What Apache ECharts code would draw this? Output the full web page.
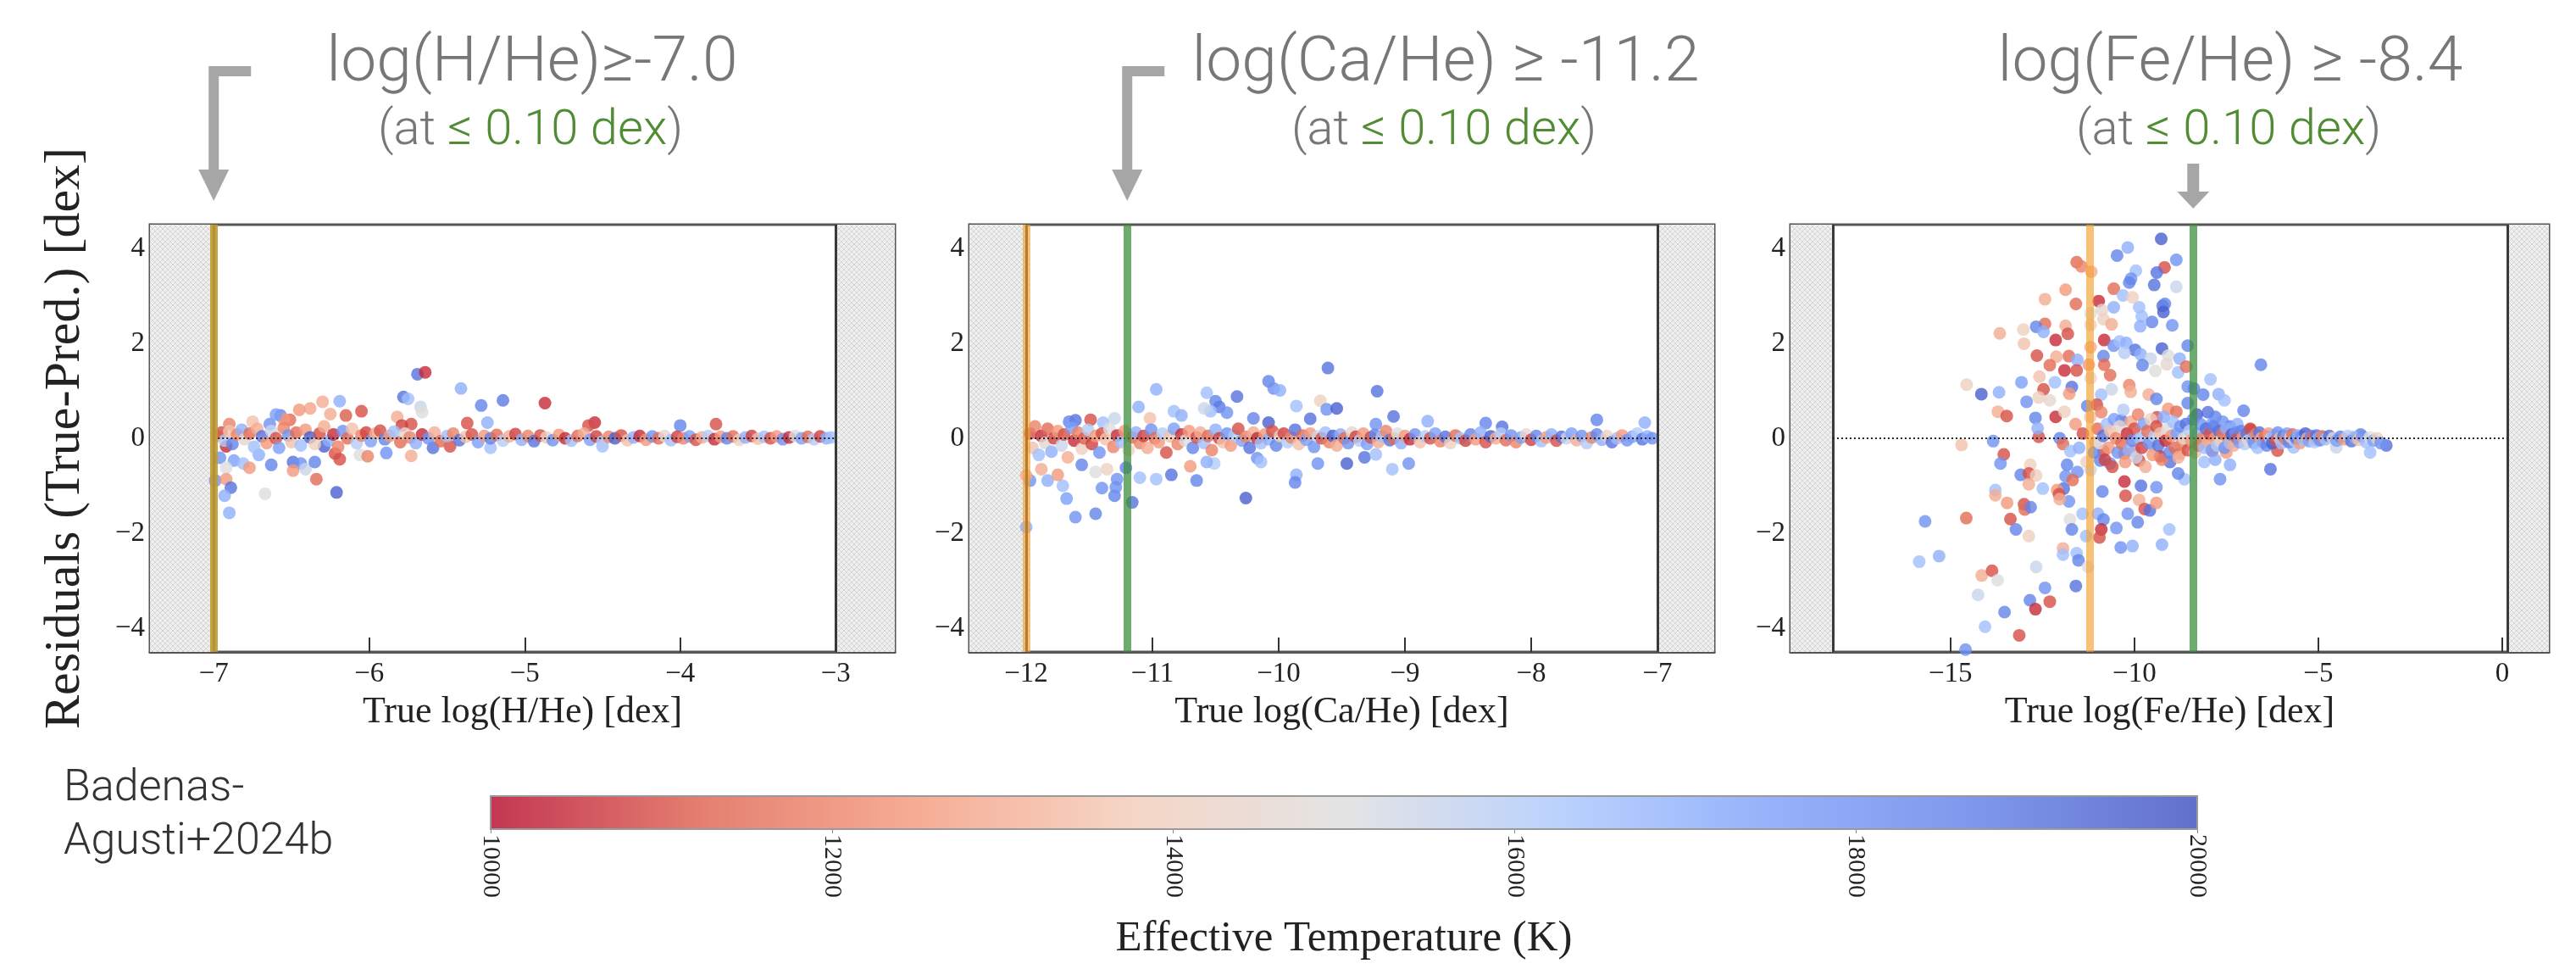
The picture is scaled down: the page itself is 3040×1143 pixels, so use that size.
<!DOCTYPE html>
<html>
<head>
<meta charset="utf-8">
<title>Residuals vs true abundance</title>
<script src="https://cdn.jsdelivr.net/npm/echarts@6.0.0/dist/echarts.min.js"></script>
<style>
    html, body { margin: 0; padding: 0; background: #ffffff; }
    #chart { width: 3040px; height: 1143px; }
</style>
</head>
<body>
<div id="chart"></div>
<script>
// ---------------------------------------------------------------------------
// Data: [true log abundance, residual, Teff]
// ---------------------------------------------------------------------------
const hOutliers = [
    [-5.69,1.35,19000],[-5.64,1.39,10500],[-5.41,1.05,17000],[-5.78,0.87,19000],[-5.75,0.83,16500],
    [-5.67,0.66,15500],[-5.66,0.55,15000],[-5.28,0.69,18500],[-5.14,0.80,18800],[-4.87,0.74,10500],
    [-6.19,0.78,17000],[-6.30,0.77,13000],[-6.38,0.63,12800],[-6.05,0.57,11000],[-6.15,0.48,11200],
    [-6.25,0.51,13000],[-6.45,0.60,12500],[-6.57,0.48,18500],[-6.51,0.39,11500],[-6.64,0.30,18000],
    [-5.82,0.45,13000],[-5.73,0.30,11000],[-5.79,0.27,10800],[-5.24,0.33,17000],[-5.37,0.32,11000],
    [-4.55,0.33,10500],[-4.59,0.27,11000],[-4.00,0.27,18500],[-3.77,0.30,11000],[-6.29,-0.17,19500],
    [-6.96,-0.41,18000],[-6.92,-0.17,10500],[-6.87,-0.47,17500],[-6.81,-0.53,16500],[-6.77,-0.62,12500],
    [-6.92,-0.62,15000],[-6.71,-0.35,17000],[-6.63,-0.56,18500],[-6.49,-0.50,19000],[-6.44,-0.53,18000],
    [-6.49,-0.68,12500],[-6.41,-0.65,15500],[-6.35,-0.50,18500],[-6.22,-0.32,11000],[-6.19,-0.44,11000],
    [-6.06,-0.35,15000],[-6.01,-0.38,12000],[-6.34,-0.86,11500],[-6.99,-0.89,18000],[-6.92,-0.86,12500],
    [-6.89,-1.04,19000],[-6.93,-1.21,17000],[-6.90,-1.57,17000],[-6.67,-1.17,15000],[-6.21,-1.14,19500],
    [-5.73,-0.37,13000],[-5.89,-0.31,18000],[-5.59,-0.20,19000],[-5.48,-0.17,11000],[-5.22,-0.20,16500],
    [-4.50,-0.17,16500],[-6.90,0.30,12000],[-6.75,0.35,13500],[-6.55,0.40,12500],[-6.60,0.50,17500]
];
const hBand = [
    [-6.98,0.05,12500],[-6.95,0.12,11000],[-6.93,-0.05,16000],[-6.90,0.15,13500],[-6.88,-0.12,18500],
    [-6.85,0.08,12000],[-6.82,0.18,17000],[-6.80,-0.02,14500],[-6.77,0.10,11500],[-6.74,-0.18,16500],
    [-6.72,0.20,13000],[-6.69,0.04,19000],[-6.66,-0.10,12500],[-6.63,0.15,15500],[-6.60,0.00,11000],
    [-6.58,-0.20,17500],[-6.55,0.22,12000],[-6.52,0.06,18000],[-6.50,-0.08,13500],[-6.47,0.12,11500],
    [-6.44,-0.15,16500],[-6.41,0.18,12500],[-6.38,0.02,19500],[-6.35,-0.12,14000],[-6.32,0.10,11000],
    [-6.29,0.25,13000],[-6.26,-0.05,17000],[-6.23,0.08,10500],[-6.20,-0.18,12000],[-6.17,0.15,18000],
    [-6.14,0.00,11500],[-6.11,0.20,13500],[-6.08,-0.10,16000],[-6.05,0.06,12000],[-6.02,0.12,10800],
    [-5.99,-0.06,17500],[-5.96,0.10,13000],[-5.93,0.16,11000],[-5.90,-0.02,18500],[-5.87,0.05,12500],
    [-5.84,0.14,16500],[-5.80,-0.08,11500],[-5.77,0.10,14500],[-5.74,0.02,12000],[-5.70,-0.10,17000],
    [-5.66,0.08,10500],[-5.62,0.00,18000],[-5.58,0.12,13000],[-5.54,-0.06,11500],[-5.50,0.05,16500],
    [-5.46,0.10,12000],[-5.42,-0.04,19000],[-5.38,0.03,13500],[-5.34,0.08,11000],[-5.30,-0.08,17500],
    [-5.26,0.05,12500],[-5.22,0.00,18500],[-5.18,0.07,11500],[-5.14,-0.05,16000],[-5.10,0.04,13000],
    [-5.06,0.09,10800],[-5.02,-0.03,17000],[-4.98,0.05,12000],[-4.94,-0.06,19000],[-4.90,0.06,11000],
    [-4.86,0.02,14000],[-4.82,-0.04,18000],[-4.78,0.07,12500],[-4.74,0.00,10500],[-4.70,-0.05,16500],
    [-4.66,0.05,11500],[-4.62,0.10,13000],[-4.58,-0.03,17500],[-4.54,0.04,10800],[-4.50,-0.07,16000],
    [-4.46,0.03,12000],[-4.42,0.00,19500],[-4.38,0.06,11000],[-4.34,-0.04,13500],[-4.30,0.02,17000],
    [-4.26,0.05,10500],[-4.22,-0.03,12500],[-4.18,0.04,18000],[-4.14,0.00,11500],[-4.10,0.05,14500],
    [-4.06,-0.04,16500],[-4.02,0.03,10800],[-3.98,0.00,12000],[-3.94,0.04,17500],[-3.90,-0.03,11000],
    [-3.86,0.02,13000],[-3.82,0.05,16000],[-3.78,-0.02,10500],[-3.74,0.03,12500],[-3.70,0.00,18500],
    [-3.66,0.04,11500],[-3.62,-0.03,14000],[-3.58,0.02,17000],[-3.54,0.05,10800],[-3.50,-0.01,13500],
    [-3.46,0.03,16500],[-3.42,0.00,11000],[-3.38,0.04,12500],[-3.34,-0.02,18000],[-3.30,0.02,10500],
    [-3.26,0.05,15000],[-3.22,0.00,17500],[-3.18,0.03,11500],[-3.14,-0.02,16000],[-3.10,0.04,10800],
    [-3.06,0.00,17000],[-3.03,0.02,16500]
];

const caOutliers = [
    [-9.61,1.48,19000],[-10.08,1.20,18500],[-10.04,1.05,18000],[-9.99,1.01,17000],[-9.22,0.99,19000],
    [-10.97,1.03,17000],[-10.57,0.96,16500],[-10.33,0.88,19000],[-9.67,0.79,14000],[-9.86,0.68,16500],
    [-9.62,0.61,18000],[-9.54,0.63,19500],[-10.50,0.78,18500],[-10.47,0.66,18800],[-10.41,0.54,18000],
    [-10.54,0.57,16500],[-11.11,0.66,17000],[-10.59,0.63,15500],[-9.09,0.46,19000],[-10.83,0.57,16500],
    [-10.77,0.48,17000],[-11.02,0.42,13500],[-10.20,0.42,18500],[-10.08,0.33,19500],[-9.75,0.41,19000],
    [-9.23,0.30,18000],[-8.82,0.36,17000],[-8.36,0.32,18500],[-8.23,0.24,19000],[-7.48,0.39,18500],
    [-7.10,0.33,17000],[-11.61,0.38,19000],[-11.66,0.35,18500],[-11.49,0.39,11000],[-11.39,0.33,16500],
    [-11.30,0.42,15500],[-10.26,-1.26,19500],[-11.61,-1.66,18000],[-11.45,-1.59,18500],[-11.68,-1.27,17500],
    [-11.40,-1.05,18000],[-11.30,-1.21,18500],[-11.29,-1.03,18000],[-11.28,-0.86,18000],[-11.16,-1.35,19000],
    [-11.21,-0.62,18500],[-10.85,-0.77,19000],[-10.65,-0.89,18500],[-10.97,-0.86,16500],[-11.10,-0.83,16500],
    [-9.86,-0.77,17000],[-9.87,-0.93,18500],[-9.69,-0.53,18000],[-9.46,-0.53,19500],[-9.32,-0.40,19000],
    [-9.23,-0.34,16500],[-9.10,-0.65,16500],[-8.97,-0.53,18000],[-10.70,-0.59,12500],[-10.51,-0.53,16000],
    [-10.57,-0.50,17000],[-10.17,-0.42,18000],[-10.14,-0.50,16500],[-11.97,-0.89,18000],[-12.00,-0.78,13000],
    [-12.00,-1.87,17000],[-11.71,-1.00,16500],[-11.83,-0.89,17000],[-11.56,-0.56,18500],[-11.88,-0.65,13000],
    [-11.75,-0.77,12500],[-11.45,-0.71,15000],[-11.36,-0.65,14000]
];
const caBand = [
    [-11.97,0.10,11000],[-11.95,-0.20,13500],[-11.93,0.25,12000],[-11.90,-0.35,16500],[-11.88,0.05,10500],
    [-11.85,-0.10,14500],[-11.83,0.20,11500],[-11.80,-0.28,17000],[-11.78,0.00,10800],[-11.75,0.15,12500],
    [-11.72,-0.15,15500],[-11.70,0.08,11000],[-11.67,-0.40,13000],[-11.64,0.22,17500],[-11.62,-0.05,10500],
    [-11.59,0.12,12000],[-11.56,-0.22,14000],[-11.54,0.00,11200],[-11.51,0.18,16000],[-11.48,-0.12,10800],
    [-11.45,0.05,12500],[-11.42,-0.30,18000],[-11.40,0.10,11000],[-11.37,-0.02,13500],[-11.34,0.20,15000],
    [-11.31,-0.18,12000],[-11.28,0.06,10500],[-11.25,-0.08,16500],[-11.22,0.15,12500],[-11.19,-0.25,14000],
    [-11.16,0.02,11500],[-11.13,0.12,17000],[-11.10,-0.10,12000],[-11.07,0.05,10800],[-11.04,-0.20,13000],
    [-11.01,0.18,18000],[-10.98,0.00,11500],[-10.95,-0.08,12500],[-10.92,0.10,16000],[-10.89,-0.30,11000],
    [-10.86,0.04,13500],[-10.83,0.20,17500],[-10.80,-0.12,12000],[-10.77,0.08,10500],[-10.74,-0.05,15000],
    [-10.71,0.15,12500],[-10.68,-0.20,18500],[-10.65,0.02,11000],[-10.62,0.12,13000],[-10.59,-0.10,16500],
    [-10.56,0.05,11500],[-10.53,-0.25,12000],[-10.50,0.18,17000],[-10.47,0.00,10800],[-10.44,-0.08,13500],
    [-10.41,0.10,18000],[-10.38,-0.15,12500],[-10.35,0.06,16000],[-10.32,0.20,11000],[-10.29,-0.05,17500],
    [-10.26,0.03,12000],[-10.23,-0.20,19000],[-10.20,0.12,13000],[-10.17,0.00,10500],[-10.14,-0.10,16500],
    [-10.11,0.08,12500],[-10.08,-0.02,17000],[-10.05,0.15,11000],[-10.02,-0.15,18500],[-9.99,0.05,14000],
    [-9.96,0.10,10800],[-9.93,-0.08,16000],[-9.90,0.02,12000],[-9.87,0.18,19000],[-9.84,-0.12,13500],
    [-9.81,0.06,11500],[-9.78,-0.03,17500],[-9.75,0.10,12500],[-9.72,-0.18,18000],[-9.69,0.04,15500],
    [-9.66,0.00,11000],[-9.63,0.12,16500],[-9.60,-0.08,12000],[-9.57,0.05,19500],[-9.54,-0.15,13000],
    [-9.51,0.08,17000],[-9.48,0.00,11500],[-9.45,-0.10,18000],[-9.42,0.12,14500],[-9.39,0.03,10800],
    [-9.36,-0.05,16000],[-9.33,0.10,12500],[-9.30,-0.12,17500],[-9.27,0.02,11000],[-9.24,0.07,18500],
    [-9.21,-0.08,13000],[-9.18,0.04,16500],[-9.15,0.15,12000],[-9.12,-0.04,19000],[-9.09,0.00,11500],
    [-9.06,0.10,15000],[-9.03,-0.10,17000],[-9.00,0.05,12500],[-8.96,-0.02,10500],[-8.92,0.08,18000],
    [-8.88,-0.08,13500],[-8.84,0.04,16000],[-8.80,0.00,11000],[-8.76,0.10,17500],[-8.72,-0.06,12000],
    [-8.68,0.03,19000],[-8.64,-0.10,14000],[-8.60,0.06,11500],[-8.56,0.00,16500],[-8.52,-0.05,10800],
    [-8.48,0.08,18500],[-8.44,-0.02,12500],[-8.40,0.12,17000],[-8.36,-0.08,11000],[-8.32,0.04,19500],
    [-8.28,0.00,13000],[-8.24,0.10,16000],[-8.20,-0.04,11500],[-8.16,0.06,18000],[-8.12,-0.08,12000],
    [-8.08,0.02,17500],[-8.04,0.08,14500],[-8.00,-0.03,10800],[-7.96,0.05,18500],[-7.92,-0.06,16500],
    [-7.88,0.02,12500],[-7.84,0.08,17000],[-7.80,-0.05,11000],[-7.76,0.03,19000],[-7.72,0.00,15500],
    [-7.68,0.10,17500],[-7.64,-0.04,13000],[-7.60,0.05,18000],[-7.56,-0.10,16000],[-7.52,0.02,12000],
    [-7.48,0.08,18500],[-7.44,-0.03,17000],[-7.40,0.05,14000],[-7.36,-0.08,19000],[-7.32,0.00,16500],
    [-7.28,0.06,12500],[-7.24,-0.04,18000],[-7.20,0.03,17500],[-7.16,0.10,16000],[-7.12,-0.02,19000],
    [-7.08,0.04,17000],[-7.04,0.00,18000]
];

const feOutliers = [
    [-9.27,4.20,19500],[-10.18,4.02,17000],[-10.47,3.85,18500],[-8.86,3.76,18000],[-9.18,3.60,11000],
    [-9.39,3.49,19000],[-11.57,3.71,11500],[-11.44,3.62,12000],[-11.17,3.51,13000],[-9.96,3.53,16500],
    [-10.09,3.36,18000],[-10.14,3.28,18500],[-9.46,3.23,19000],[-8.86,3.19,15500],[-11.87,3.13,12500],
    [-10.56,3.15,11500],[-10.31,3.01,16500],[-10.05,2.97,14000],[-12.43,2.93,13000],[-11.59,2.83,11500],
    [-10.97,2.89,10500],[-10.88,2.70,14500],[-10.56,2.76,17000],[-9.87,2.76,16500],[-9.23,2.79,19000],
    [-9.17,2.83,18500],[-9.21,2.66,19500],[-11.19,2.63,15000],[-9.80,2.57,16500],[-9.52,2.45,18500],
    [-8.97,2.38,18000],[-9.84,2.36,17000],[-10.84,2.51,14000],[-10.62,2.40,13000],[-11.19,2.39,14000],
    [-11.87,2.37,13000],[-12.43,2.41,11500],[-12.67,2.35,18500],[-12.47,2.24,17000],[-13.02,2.29,14000],
    [-13.66,2.21,13000],[-11.81,2.20,11000],[-12.14,2.07,10500],[-13.00,1.99,13500],[-10.82,2.07,10500],
    [-10.56,1.95,18000],[-10.40,2.04,16500],[-10.22,2.01,17000],[-9.98,1.86,19000],[-9.25,1.89,19500],
    [-8.55,1.95,18500],[-11.19,1.92,13000],[-12.65,1.74,11000],[-12.12,1.72,13000],[-11.78,1.73,11500],
    [-11.55,1.65,17000],[-10.84,1.73,18500],[-10.27,1.80,16000],[-9.83,1.77,17000],[-9.56,1.68,15500],
    [-9.08,1.74,15000],[-8.77,1.68,17000],[-12.30,1.54,11500],[-11.90,1.43,10500],[-11.57,1.43,11000],
    [-11.24,1.55,12500],[-10.82,1.55,11500],[-10.66,1.33,11500],[-12.58,1.30,13500],[-9.78,1.54,18500],
    [-9.43,1.42,15000],[-9.12,1.56,14500],[-8.81,1.39,16500],[-8.59,1.51,11500],[-7.93,1.24,16500],
    [-6.56,1.55,18500],[-14.56,1.13,14000],[-14.16,0.93,19500],[-13.68,0.97,17000],[-13.07,1.18,17500],
    [-12.93,0.77,18000],[-12.16,1.18,16500],[-12.47,1.03,11000],[-12.60,0.86,14000],[-12.30,0.80,14500],
    [-11.70,1.08,19000],[-11.77,0.94,12500],[-11.19,1.27,14500],[-10.90,0.92,16500],[-10.62,1.03,15500],
    [-10.14,1.12,12000],[-10.10,0.98,13000],[-9.61,0.92,13000],[-9.40,0.83,18500],[-8.55,1.09,18000],
    [-8.38,1.05,18500],[-8.55,0.74,18500],[-8.13,0.92,18500],[-7.71,0.93,17000],[-7.55,0.80,16500],
    [-7.03,0.58,18500],[-13.71,0.56,13000],[-13.47,0.47,11000],[-12.69,0.43,18500],[-12.14,0.45,10500],
    [-11.90,0.56,14000],[-11.28,0.68,18500],[-11.02,0.71,11000],[-10.35,0.38,19000],[-9.39,0.44,11000],
    [-9.08,0.62,12500],[-8.86,0.56,11500],[-12.60,0.03,11000],[-12.63,0.21,17000],[-12.03,0.00,18500],
    [-11.94,-0.12,11500],[-13.84,-0.06,18000],[-14.70,-0.14,13500],[-13.55,-0.34,11000],[-13.64,-0.53,18000],
    [-11.74,-0.27,16500],[-11.06,-0.09,13000],[-10.84,-0.27,11000],[-10.93,-0.47,18500],[-10.66,-0.53,18000],
    [-10.27,-0.32,11500],[-10.00,-0.27,12500],[-9.87,-0.47,11000],[-9.56,-0.15,14500],[-9.30,-0.38,10500],
    [-9.03,-0.50,19000],[-8.77,-0.32,12500],[-8.64,-0.86,16500],[-8.81,-0.74,18500],[-8.06,-0.09,13000],
    [-7.88,-0.27,11500],[-7.40,-0.56,17000],[-7.67,-0.86,18000],[-6.30,-0.65,19000],[-12.83,-0.56,14000],
    [-13.09,-0.77,18500],[-12.87,-0.74,11000],[-12.67,-0.78,14000],[-11.83,-0.56,18500],[-11.55,-0.71,18000],
    [-11.87,-0.80,18000],[-11.19,-0.67,15500],[-12.87,-0.97,13000],[-12.49,-1.06,16500],[-11.92,-1.06,19000],
    [-12.10,-1.09,12500],[-11.68,-0.88,11500],[-10.87,-1.12,18500],[-10.27,-0.91,10500],[-9.82,-1.00,19000],
    [-9.40,-1.03,18000],[-13.78,-1.09,16500],[-13.78,-1.20,13000],[-13.46,-1.36,12500],[-13.00,-1.39,11000],
    [-12.98,-1.50,11500],[-12.82,-1.45,18500],[-12.05,-1.18,11000],[-11.78,-1.33,18000],[-12.03,-1.28,13000],
    [-10.24,-1.21,11000],[-9.87,-1.30,13000],[-9.72,-1.49,11000],[-9.58,-1.52,19000],[-9.40,-1.36,12500],
    [-14.57,-1.68,11500],[-15.69,-1.75,18000],[-13.37,-1.70,11000],[-13.22,-1.92,18500],[-12.87,-2.06,14000],
    [-11.41,-1.59,16500],[-10.99,-1.59,17000],[-11.75,-1.71,15000],[-10.84,-1.71,18500],[-10.49,-1.89,18000],
    [-10.90,-1.92,10500],[-10.95,-2.09,11000],[-11.70,-1.92,18500],[-11.31,-2.06,16500],[-10.18,-1.59,18000],
    [-9.91,-1.77,18500],[-9.05,-1.92,16500],[-10.37,-2.30,18000],[-10.05,-2.27,17000],[-9.25,-2.24,17000],
    [-11.94,-2.32,13000],[-11.94,-2.45,16500],[-11.57,-2.42,16500],[-11.52,-2.57,18500],[-11.26,-2.71,15000],
    [-15.85,-2.60,16500],[-15.31,-2.48,17000],[-14.15,-2.89,13000],[-13.87,-2.79,11000],[-13.72,-2.99,15000],
    [-14.25,-3.30,15500],[-12.67,-2.71,15500],[-12.43,-3.15,18000],[-11.59,-3.11,19000],[-12.84,-3.41,18500],
    [-12.30,-3.44,11000],[-12.69,-3.60,10500],[-13.53,-3.66,18500],[-14.06,-3.97,16500],[-13.13,-4.15,11000],
    [-14.59,-4.45,18000],[-3.15,-0.15,19000],[-3.59,-0.30,16500],[-3.85,0.08,18500],[-4.87,0.03,19500],
    [-5.02,-0.04,19000],[-5.67,-0.19,16500],[-6.11,-0.26,11000],[-6.47,0.00,11000],[-6.84,0.18,10500],
    [-7.13,0.03,13000],[-4.07,0.03,14500],[-4.51,-0.19,15500],[-8.00,0.55,19000],[-7.80,0.45,18500],
    [-7.60,0.35,18000],[-7.90,0.30,17500],[-8.30,0.50,19500],[-7.40,0.25,18500],[-7.20,0.30,17000],
    [-8.10,-0.50,16500],[-7.80,-0.45,17000],[-7.50,-0.30,12500]
];
const feBand = [
    [-11.60,0.30,12500],[-11.50,-0.20,17000],[-11.40,0.10,11000],[-11.30,-0.50,14000],[-11.20,0.45,13500],
    [-11.10,-0.30,18500],[-11.00,0.20,11500],[-10.95,-0.10,15000],[-10.90,0.55,12000],[-10.85,0.05,19000],
    [-10.80,-0.45,10800],[-10.75,0.30,16500],[-10.70,-0.20,12500],[-10.65,0.15,13500],[-10.60,-0.60,11000],
    [-10.55,0.40,17500],[-10.50,0.00,12000],[-10.45,-0.30,18000],[-10.40,0.25,14500],[-10.35,-0.10,11500],
    [-10.30,0.60,16000],[-10.25,-0.50,12500],[-10.20,0.10,10500],[-10.15,-0.25,17000],[-10.10,0.35,13000],
    [-10.05,-0.05,18500],[-10.00,0.20,11000],[-9.95,-0.40,15500],[-9.90,0.50,12000],[-9.85,0.00,16500],
    [-9.80,-0.20,10800],[-9.75,0.30,17500],[-9.70,-0.60,13000],[-9.65,0.15,11500],[-9.60,-0.10,18000],
    [-9.55,0.40,14000],[-9.50,-0.35,12500],[-9.45,0.05,16000],[-9.40,0.25,11000],[-9.35,-0.15,19000],
    [-9.30,0.10,13500],[-9.25,-0.45,12000],[-9.20,0.45,17000],[-9.15,-0.05,10500],[-9.10,0.20,15000],
    [-9.05,-0.30,18500],[-9.00,0.05,12500],[-8.95,0.35,16500],[-8.90,-0.20,11500],[-8.85,0.10,17500],
    [-8.80,-0.40,13000],[-8.75,0.25,18000],[-8.70,-0.10,12000],[-8.65,0.00,14500],[-8.60,0.30,19000],
    [-8.55,-0.25,11000],[-8.50,0.15,16000],[-8.45,-0.05,12500],[-8.40,0.40,18500],[-8.35,-0.30,13500],
    [-8.30,0.10,17000],[-8.25,-0.15,11500],[-8.20,0.30,18000],[-8.15,0.00,12000],[-8.10,-0.20,16500],
    [-8.05,0.20,19000],[-8.00,-0.05,13000],[-7.95,0.10,11000],[-7.90,-0.25,17500],[-7.85,0.25,18500],
    [-7.80,0.00,12500],[-7.75,-0.15,16000],[-7.70,0.15,19000],[-7.65,-0.05,14000],[-7.60,0.10,11500],
    [-7.55,-0.20,18000],[-7.50,0.20,17000],[-7.45,0.00,12000],[-7.40,-0.10,16500],[-7.35,0.08,19500],
    [-7.30,-0.15,13000],[-7.25,0.12,18000],[-7.20,0.00,11000],[-7.15,-0.08,17500],[-7.10,0.15,18500],
    [-7.05,0.02,12500],[-7.00,-0.12,16000],[-6.95,0.10,19000],[-6.90,-0.05,14500],[-6.85,0.20,11000],
    [-6.80,0.00,17000],[-6.75,-0.10,18000],[-6.70,0.08,12000],[-6.65,-0.20,16500],[-6.60,0.12,19000],
    [-6.55,0.00,13000],[-6.50,-0.08,17500],[-6.45,0.05,11500],[-6.40,-0.15,18500],[-6.35,0.10,12500],
    [-6.30,0.00,16000],[-6.25,-0.10,19500],[-6.20,0.06,17000],[-6.15,-0.04,11000],[-6.10,0.12,18000],
    [-6.05,0.00,13500],[-6.00,-0.10,16500],[-5.95,0.05,19000],[-5.90,-0.02,12000],[-5.85,0.10,17500],
    [-5.80,-0.08,18500],[-5.75,0.03,14000],[-5.70,0.08,11500],[-5.65,-0.05,16000],[-5.60,0.00,19000],
    [-5.55,0.06,17000],[-5.50,-0.10,12500],[-5.45,0.04,18000],[-5.40,-0.03,16500],[-5.35,0.10,19500],
    [-5.30,0.00,13000],[-5.25,-0.06,17500],[-5.20,0.05,18500],[-5.15,0.02,11500],[-5.10,-0.08,16000],
    [-5.05,0.06,19000],[-5.00,0.00,17000],[-4.95,-0.04,18000],[-4.90,0.04,12000],[-4.80,-0.02,16500],
    [-4.70,0.05,19000],[-4.60,0.00,14500],[-4.50,-0.05,17500],[-4.40,0.03,18500],[-4.30,-0.02,12500],
    [-4.20,0.05,16000],[-4.10,-0.06,19000],[-4.00,0.02,17000],[-3.90,-0.03,13500],[-3.80,0.04,18000],
    [-3.70,-0.08,16500],[-3.60,0.02,15000],[-3.50,-0.05,17500],[-3.40,0.00,14000],[-3.30,-0.10,18000]
];

// axis ranges, training limits and threshold lines per panel
const xRanges = [[-7.41, -2.62], [-12.45, -6.55], [-19.35, 1.27]];
const yRange = [-4.5, 4.5];
const limits = [[-7, -3], [-12, -7], [-18.2, 0.15]];
const orangeX = [-7, -12, -11.2];
const greenX = [-7, -11.2, -8.4];
const xTicks = [[-7, -6, -5, -4, -3], [-12, -11, -10, -9, -8, -7], [-15, -10, -5, 0]];
const yTicks = [-4, -2, 0, 2, 4];
const xNames = ["True log(H/He) [dex]", "True log(Ca/He) [dex]", "True log(Fe/He) [dex]"];
const titles = ["log(H/He)\u2265-7.0", "log(Ca/He) \u2265 -11.2", "log(Fe/He) \u2265 -8.4"];
const teffRange = [10000, 20000];
const teffTicks = 2000;
const coolwarmR = ["#b40426", "#de604d", "#f4987a", "#f2cbb7", "#dddddd", "#aac7fd", "#7b9ff9", "#5d7ce6", "#3b4cc0"];

const SERIF = '"Liberation Serif", "DejaVu Serif", serif';
const SANS = 'Roboto, "Liberation Sans", sans-serif';

document.addEventListener("DOMContentLoaded", function () {
    drawChart();
});

// light grey cross-hatch used for the out-of-range zones
function makeHatch() {
    const c = document.createElement("canvas");
    c.width = 6;
    c.height = 6;
    const ctx = c.getContext("2d");
    ctx.fillStyle = "#efefef";
    ctx.fillRect(0, 0, 6, 6);
    ctx.strokeStyle = "#d6d6d6";
    ctx.lineWidth = 1;
    ctx.beginPath();
    ctx.moveTo(0, 0); ctx.lineTo(6, 6);
    ctx.moveTo(6, 0); ctx.lineTo(0, 6);
    ctx.stroke();
    return { image: c, repeat: "repeat" };
}

function hexToRgba(hex, a) {
    const n = parseInt(hex.slice(1), 16);
    return "rgba(" + (n >> 16) + "," + ((n >> 8) & 255) + "," + (n & 255) + "," + a + ")";
}

function minusFmt(v) {
    return v < 0 ? "\u2212" + Math.abs(v) : String(v);
}

function panelSeries(i, points, hatch) {
    const lim = limits[i];
    const xr = xRanges[i];
    return {
        type: "scatter",
        xAxisIndex: i,
        yAxisIndex: i,
        data: points,
        symbolSize: 15,
        itemStyle: { opacity: 0.8 },
        z: 3,
        markArea: {
            silent: true,
            z: 1,
            itemStyle: { color: hatch },
            data: [
                [{ xAxis: xr[0] }, { xAxis: lim[0] }],
                [{ xAxis: lim[1] }, { xAxis: xr[1] }]
            ]
        },
        markLine: {
            silent: true,
            symbol: "none",
            z: 5,
            label: { show: false },
            data: [
                { xAxis: lim[0], lineStyle: { color: "#3a3a3a", width: 3, type: "solid" } },
                { xAxis: lim[1], lineStyle: { color: "#3a3a3a", width: 3, type: "solid" } },
                [
                    { coord: [lim[0], 0], lineStyle: { color: "#222", width: 2, type: [2, 3] } },
                    { coord: [lim[1], 0] }
                ],
                { xAxis: greenX[i], lineStyle: { color: "rgba(61,143,61,0.75)", width: 9, type: "solid" } },
                { xAxis: orangeX[i], lineStyle: { color: "rgba(245,160,48,0.65)", width: 9, type: "solid" } }
            ]
        }
    };
}

function drawChart() {
    const chart = echarts.init(document.getElementById("chart"));
    const hatch = makeHatch();

    const grids = [
        { left: 177, top: 265, width: 879, height: 504 },
        { left: 1144, top: 265, width: 879, height: 504 },
        { left: 2113, top: 265, width: 895, height: 504 },
        { left: 579, top: 939, width: 2014, height: 39 }
    ].map(function (g, i) {
        return Object.assign({
            show: i < 3,
            borderColor: "#555",
            borderWidth: 3,
            backgroundColor: "#fff"
        }, g);
    });

    const xAxes = [0, 1, 2].map(function (i) {
        return {
            type: "value",
            gridIndex: i,
            min: xRanges[i][0],
            max: xRanges[i][1],
            axisLine: { show: true, onZero: false, lineStyle: { color: "#555", width: 3 } },
            axisTick: { show: true, inside: true, length: 17, customValues: xTicks[i], lineStyle: { color: "#333", width: 2 } },
            axisLabel: { customValues: xTicks[i], formatter: minusFmt, fontFamily: SERIF, fontSize: 33, color: "#222", margin: 10 },
            splitLine: { show: false },
            name: xNames[i],
            nameLocation: "middle",
            nameGap: 49,
            nameTextStyle: { fontFamily: SERIF, fontSize: 44, color: "#222" }
        };
    });
    xAxes.push({
        type: "value",
        gridIndex: 3,
        min: teffRange[0],
        max: teffRange[1],
        interval: teffTicks,
        axisLine: { show: false },
        axisTick: { show: true, length: 5, lineStyle: { color: "#888", width: 1 } },
        axisLabel: { rotate: -90, formatter: function (v) { return String(v); }, fontFamily: SERIF, fontSize: 30, color: "#222", margin: 6 },
        splitLine: { show: false },
        name: "Effective Temperature (K)",
        nameLocation: "middle",
        nameGap: 104,
        nameTextStyle: { fontFamily: SERIF, fontSize: 51, color: "#222" }
    });

    const yAxes = [0, 1, 2].map(function (i) {
        return {
            type: "value",
            gridIndex: i,
            min: yRange[0],
            max: yRange[1],
            axisLine: { show: true, onZero: false, lineStyle: { color: "#555", width: 3 } },
            axisTick: { show: true, inside: true, length: 17, customValues: yTicks, lineStyle: { color: "#333", width: 2 } },
            axisLabel: { customValues: yTicks, formatter: minusFmt, fontFamily: SERIF, fontSize: 33, color: "#222", margin: 6 },
            splitLine: { show: false },
            name: i === 0 ? "Residuals (True-Pred.) [dex]" : "",
            nameLocation: "middle",
            nameRotate: 90,
            nameGap: 70,
            nameTextStyle: { fontFamily: SERIF, fontSize: 60, color: "#222" }
        };
    });
    yAxes.push({ type: "value", gridIndex: 3, min: 0, max: 1, show: false });

    // colour bar drawn in its own grid
    const stops = coolwarmR.map(function (c, k) {
        return { offset: k / (coolwarmR.length - 1), color: hexToRgba(c, 0.8) };
    });
    const colorbar = {
        type: "custom",
        xAxisIndex: 3,
        yAxisIndex: 3,
        silent: true,
        data: [[teffRange[0], teffRange[1]]],
        renderItem: function (params, api) {
            const p0 = api.coord([api.value(0), 0]);
            const p1 = api.coord([api.value(1), 1]);
            return {
                type: "rect",
                shape: { x: p0[0], y: p1[1], width: p1[0] - p0[0], height: p0[1] - p1[1] },
                style: { fill: new echarts.graphic.LinearGradient(0, 0, 1, 0, stops), stroke: "#9a9a9a", lineWidth: 2 }
            };
        }
    };

    chart.setOption({
        animation: false,
        backgroundColor: "#fff",
        grid: grids,
        xAxis: xAxes,
        yAxis: yAxes,
        visualMap: {
            type: "continuous",
            show: false,
            dimension: 2,
            seriesIndex: [0, 1, 2],
            min: teffRange[0],
            max: teffRange[1],
            inRange: { color: coolwarmR }
        },
        series: [
            panelSeries(0, hOutliers.concat(hBand), hatch),
            panelSeries(1, caOutliers.concat(caBand), hatch),
            panelSeries(2, feOutliers.concat(feBand), hatch),
            colorbar
        ]
    });

    // annotations: titles and arrows pointing at the thresholds
    const centers = [628, 1706, 2632];
    const graphics = [];
    titles.forEach(function (t, i) {
        graphics.push({
            type: "text",
            x: centers[i],
            y: 76,
            style: { text: t, fontFamily: SANS, fontWeight: 300, fontSize: 75, fill: "#777", align: "center", verticalAlign: "middle" }
        });
        graphics.push({
            type: "text",
            x: centers[i] - 2,
            y: 155,
            style: {
                text: "{g|(at }{c|\u2264 0.10 dex}{g|)}",
                align: "center",
                verticalAlign: "middle",
                rich: {
                    g: { fill: "#777", fontFamily: SANS, fontWeight: 300, fontSize: 58 },
                    c: { fill: "#4f8c33", fontFamily: SANS, fontWeight: 300, fontSize: 58 }
                }
            }
        });
    });
    graphics.push({
        type: "text",
        x: 75,
        y: 962,
        style: { text: "Badenas-\nAgusti+2024b", fontFamily: SANS, fontWeight: 300, fontSize: 52, lineHeight: 63, fill: "#333", verticalAlign: "middle" }
    });

    const arrowColor = "#a6a6a6";
    [0, 1].forEach(function (i) {
        const x = chart.convertToPixel({ gridIndex: i }, [greenX[i], 0])[0];
        graphics.push({
            type: "polyline",
            shape: { points: [[x + 44, 84], [x, 84], [x, 202]] },
            style: { stroke: arrowColor, lineWidth: 12, fill: null, lineJoin: "miter" }
        });
        graphics.push({
            type: "polygon",
            shape: { points: [[x - 18, 200], [x + 18, 200], [x, 237]] },
            style: { fill: arrowColor }
        });
    });
    const x3 = chart.convertToPixel({ gridIndex: 2 }, [greenX[2], 0])[0];
    graphics.push({
        type: "line",
        shape: { x1: x3, y1: 193, x2: x3, y2: 228 },
        style: { stroke: arrowColor, lineWidth: 14 }
    });
    graphics.push({
        type: "polygon",
        shape: { points: [[x3 - 19, 226], [x3 + 19, 226], [x3, 246]] },
        style: { fill: arrowColor }
    });

    chart.setOption({ graphic: graphics });
}
</script>
</body>
</html>
